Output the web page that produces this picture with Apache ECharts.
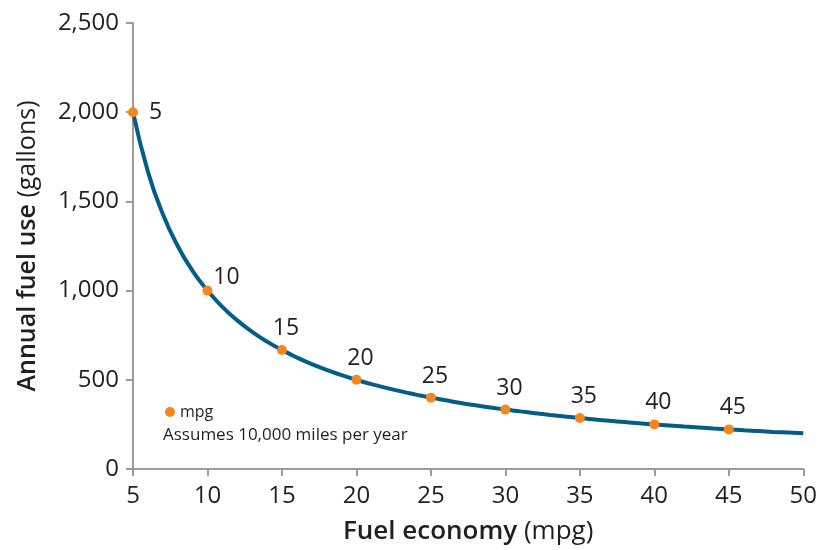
<!DOCTYPE html>
<html><head><meta charset="utf-8">
<script src="https://cdn.jsdelivr.net/npm/echarts@6/dist/echarts.min.js"></script>
<style>html,body{margin:0;padding:0;background:#fff}#c{width:820px;height:550px}</style>
</head><body><div id="c"></div>
<script>
// Curve: annual fuel use (gallons) by fuel economy (mpg)
const curveMpg = [5,6,7,8,9,10,11,12,13,14,15,16,17,18,19,20,21,22,23,24,25,26,27,28,29,30,31,32,33,34,35,36,37,38,39,40,41,42,43,44,45,46,47,48,49,50];
const curveGallons = [2000,1667,1429,1250,1111,1000,909,833,769,714,667,625,588,556,526,500,476,455,435,417,400,385,370,357,345,333,323,313,303,294,286,278,270,263,256,250,244,238,233,227,222,217,213,208,204,200];
// Highlighted points
const pointMpg = [5,10,15,20,25,30,35,40,45];
const pointGallons = [2000,1000,667,500,400,333,286,250,222];
const xTicks = [5,10,15,20,25,30,35,40,45,50];
const yTicks = [0,500,1000,1500,2000,2500];
const noteText = 'Assumes 10,000 miles per year';

const FONT = 'Open Sans';
const TXT = '#231f20';
const chart = echarts.init(document.getElementById('c'));
const pointData = pointMpg.map((x, i) => {
  const d = { value: [x, pointGallons[i]] };
  if (i === 0) d.label = { position: 'right', distance: 11, offset: [0, 0] };
  if (i === 1) d.label = { offset: [19, 8] };
  return d;
});
chart.setOption({
  animation: false,
  textStyle: { fontFamily: FONT },
  grid: { left: 133, right: 13, top: 23, bottom: 77 },
  legend: {
    data: [{ name: 'mpg', icon: 'circle' }],
    left: 160, top: 399, itemWidth: 10, itemHeight: 10, itemGap: 8,
    textStyle: { fontFamily: FONT, fontSize: 16, color: TXT }
  },
  graphic: [{
    type: 'text', left: 163, top: 427,
    style: { text: noteText, font: '17px "Open Sans"', fill: TXT }
  }],
  xAxis: {
    type: 'value', min: 5, max: 50, interval: 5,
    name: '{b|Fuel economy }{n|(mpg)}', nameLocation: 'middle', nameGap: 50,
    nameTextStyle: { rich: {
      b: { fontFamily: FONT, fontSize: 26, fontWeight: 600, color: TXT },
      n: { fontFamily: FONT, fontSize: 26, color: TXT } } },
    axisLine: { lineStyle: { color: '#9b9b9b', width: 2 } },
    axisTick: { show: true, length: 7, lineStyle: { color: '#9b9b9b', width: 2 } },
    axisLabel: { fontSize: 24, color: TXT, margin: 15,
      formatter: v => xTicks.includes(v) ? String(v) : '' },
    splitLine: { show: false }
  },
  yAxis: {
    type: 'value', min: 0, max: 2500, interval: 500,
    name: '{b|Annual fuel use }{n|(gallons)}', nameLocation: 'middle', nameGap: 93, nameRotate: 90,
    nameTextStyle: { rich: {
      b: { fontFamily: FONT, fontSize: 25, fontWeight: 600, color: TXT },
      n: { fontFamily: FONT, fontSize: 25, color: TXT } } },
    axisLine: { show: true, lineStyle: { color: '#9b9b9b', width: 2 } },
    axisTick: { show: true, length: 7, lineStyle: { color: '#9b9b9b', width: 2 } },
    axisLabel: { fontSize: 24, color: TXT, margin: 14,
      formatter: v => yTicks.includes(v) ? v.toLocaleString('en-US') : '' },
    splitLine: { show: false }
  },
  series: [{
    type: 'line', name: 'curve', data: curveMpg.map((x, i) => [x, curveGallons[i]]),
    smooth: true, showSymbol: false, silent: true,
    lineStyle: { color: '#035d87', width: 4 }, z: 2
  }, {
    type: 'scatter', name: 'mpg', data: pointData,
    symbolSize: 10, itemStyle: { color: '#f7861e', opacity: 1 }, z: 3,
    label: { show: true, position: 'top', distance: 5, offset: [4, 0], opacity: 1,
      formatter: p => String(p.value[0]), fontFamily: FONT, fontSize: 23, color: TXT }
  }]
});
</script></body></html>
